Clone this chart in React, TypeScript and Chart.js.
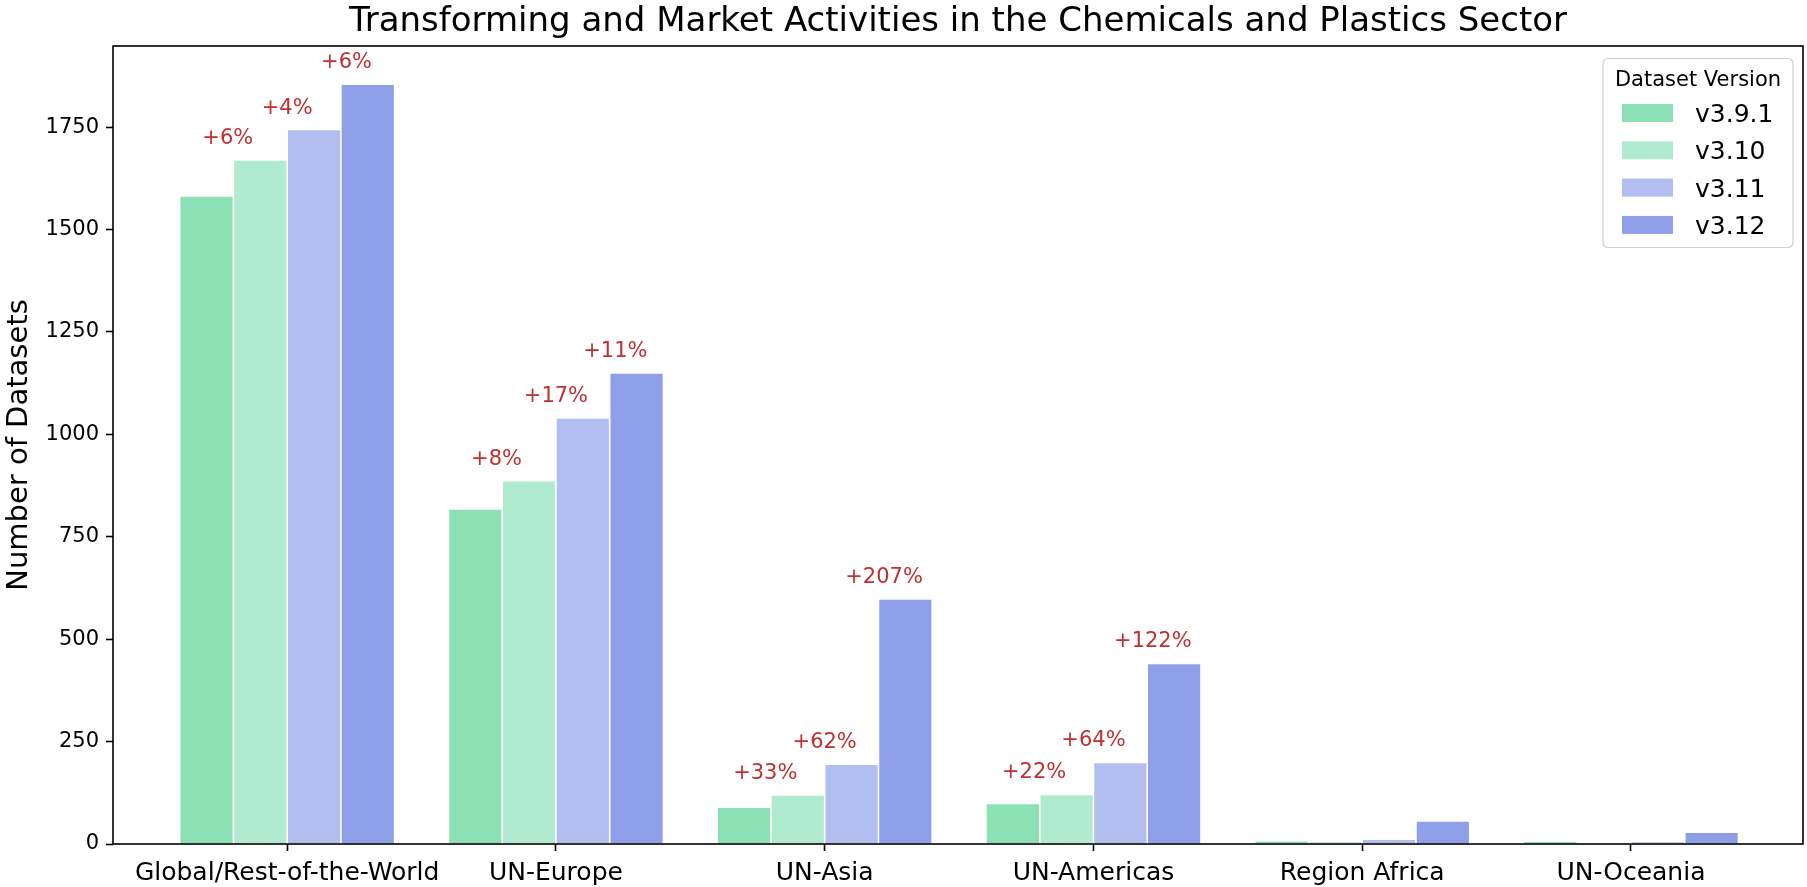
import React, { useEffect, useRef } from "react";
import { Chart, registerables } from "chart.js";

Chart.register(...registerables);

const TITLE = "Transforming and Market Activities in the Chemicals and Plastics Sector";
const Y_TITLE = "Number of Datasets";
const LEGEND_TITLE = "Dataset Version";

const categories = [
  "Global/Rest-of-the-World",
  "UN-Europe",
  "UN-Asia",
  "UN-Americas",
  "Region Africa",
  "UN-Oceania",
];
const versions = ["v3.9.1", "v3.10", "v3.11", "v3.12"];

const v391 = [1582, 818, 90, 99, 8, 7];
const v310 = [1670, 887, 120, 121, 6, 0];
const v311 = [1744, 1040, 195, 199, 12, 6];
const v312 = [1855, 1150, 598, 441, 56, 29];

const change310 = ["+6%", "+8%", "+33%", "+22%", "", ""];
const change311 = ["+4%", "+17%", "+62%", "+64%", "", ""];
const change312 = ["+6%", "+11%", "+207%", "+122%", "", ""];

const yTicks = [0, 250, 500, 750, 1000, 1250, 1500, 1750];

const colors = ["#8be0b4", "#b0eacf", "#b2bef0", "#8f9ee8"];
const FONT = "'DejaVu Sans', sans-serif";

export default function App() {
  const ref = useRef<HTMLCanvasElement>(null);

  useEffect(() => {
    document.body.style.margin = "0";
    const canvas = ref.current!;
    const series = [v391, v310, v311, v312];
    const changes = [change310, change311, change312];

    const datasets = series.map((vals, k) => ({
      label: versions[k],
      data: vals.map((v, i) => ({ x: i, y: v })),
      backgroundColor: colors[k],
      borderColor: "rgba(255,255,255,0.3)",
      borderWidth: 0.8,
      categoryPercentage: 0.8,
      barPercentage: 1.0,
    }));

    const overlay = {
      id: "overlay",
      afterDraw(chart: any) {
        const { ctx, chartArea: a, scales } = chart;
        const xs = scales.x;
        ctx.save();
        // spines
        ctx.strokeStyle = "#000";
        ctx.lineWidth = 1.6;
        ctx.strokeRect(a.left, a.top, a.right - a.left, a.bottom - a.top);

        // title
        ctx.fillStyle = "#000";
        ctx.font = `34px ${FONT}`;
        ctx.textAlign = "center";
        ctx.textBaseline = "alphabetic";
        ctx.fillText(TITLE, (a.left + a.right) / 2, 31);

        // y label
        ctx.save();
        ctx.translate(27, (a.top + a.bottom) / 2);
        ctx.rotate(-Math.PI / 2);
        ctx.font = `29px ${FONT}`;
        ctx.textAlign = "center";
        ctx.fillText(Y_TITLE, 0, 0);
        ctx.restore();

        // change annotations
        ctx.font = `21px ${FONT}`;
        ctx.fillStyle = "#c03030";
        ctx.textAlign = "center";
        changes.forEach((labels, jm1) => {
          const j = jm1 + 1;
          const meta = chart.getDatasetMeta(j);
          labels.forEach((lab, i) => {
            if (!lab) return;
            const bar = meta.data[i];
            const x = xs.getPixelForValue(i + (j - 2) * 0.221);
            ctx.fillText(lab, x, bar.y - 16);
          });
        });

        // legend
        const bx = a.right - 200;
        const by = a.top + 12.5;
        const bw = 190;
        const bh = 189;
        ctx.beginPath();
        ctx.roundRect(bx, by, bw, bh, 5);
        ctx.fillStyle = "rgba(255,255,255,0.85)";
        ctx.fill();
        ctx.strokeStyle = "#d0d0d0";
        ctx.lineWidth = 1.2;
        ctx.stroke();
        ctx.fillStyle = "#000";
        ctx.font = `21px ${FONT}`;
        ctx.textAlign = "center";
        ctx.fillText(LEGEND_TITLE, bx + bw / 2, by + 27.5);
        ctx.font = `25px ${FONT}`;
        ctx.textAlign = "left";
        versions.forEach((v, k) => {
          const cy = by + 54.5 + k * 37.3;
          ctx.fillStyle = colors[k];
          ctx.fillRect(bx + 19, cy - 9, 51, 18);
          ctx.fillStyle = "#000";
          ctx.fillText(v, bx + 92, cy + 9);
        });
        ctx.restore();
      },
    };

    const tickGrid = {
      drawOnChartArea: false,
      drawTicks: true,
      offset: false,
      tickLength: 7,
      tickWidth: 1.6,
      tickColor: "#000",
    };

    const chart = new Chart(canvas, {
      type: "bar",
      data: { datasets },
      options: {
        animation: false,
        responsive: false,
        devicePixelRatio: 1,
        layout: { padding: { top: 46, right: 4, left: 0, bottom: 0 } },
        plugins: {
          legend: { display: false },
          title: { display: false },
          tooltip: { enabled: false },
        },
        scales: {
          x: {
            type: "linear",
            offset: false,
            min: -0.648,
            max: 5.64,
            afterBuildTicks: (s: any) => {
              s.ticks = categories.map((_, i) => ({ value: i }));
            },
            afterFit: (s: any) => {
              s.height = 43;
            },
            ticks: {
              callback: (v: any) => categories[v] ?? "",
              font: { family: FONT, size: 25 },
              color: "#000",
              padding: 7,
              autoSkip: false,
              maxRotation: 0,
              minRotation: 0,
            },
            grid: tickGrid,
            border: { display: false },
          },
          y: {
            min: 0,
            max: 1948,
            afterBuildTicks: (s: any) => {
              s.ticks = yTicks.map((v) => ({ value: v }));
            },
            afterFit: (s: any) => {
              s.width = 113;
            },
            ticks: {
              callback: (v: any) => String(v),
              font: { family: FONT, size: 21 },
              color: "#000",
              padding: 7,
            },
            grid: tickGrid,
            border: { display: false },
          },
        },
      },
      plugins: [overlay],
    });

    return () => chart.destroy();
  }, []);

  return (
    <div style={{ position: "absolute", left: 0, top: 0, width: 1807, height: 887, background: "#fff" }}>
      <canvas ref={ref} width={1807} height={887} />
    </div>
  );
}
